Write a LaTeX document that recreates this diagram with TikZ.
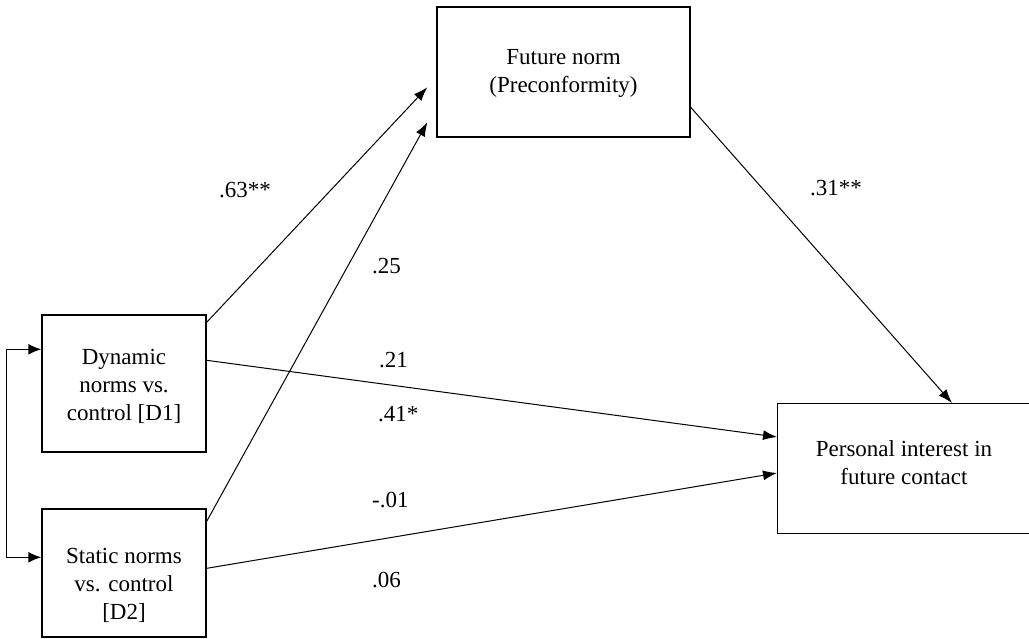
\documentclass[tikz,border=0pt]{standalone}
\usepackage{fontspec}
\setmainfont{Liberation Serif}
\usetikzlibrary{arrows.meta}
\begin{document}
\begin{tikzpicture}[x=1pt,y=-1pt,
  box/.style={draw,line width=1.4pt,rectangle,inner sep=0pt,align=center,
    font=\fontsize{23}{28}\selectfont},
  txt/.style={inner sep=0pt,align=center,font=\fontsize{23}{28}\selectfont},
  conn/.style={line width=1pt,-{Latex[length=14pt,width=10pt]}},
  lbl/.style={anchor=base west,inner sep=0pt,font=\fontsize{23}{28}\selectfont}]
\useasboundingbox (0,0) rectangle (1029,638);
\node[box,minimum width=253pt,minimum height=130pt] (fn) at (563.5,72) {};
\node[txt] (fntext) at (563.5,73) {Future norm\\(Preconformity)};
\node[box,minimum width=164pt,minimum height=137pt] (d1) at (124,383.5) {};
\node[txt] (d1text) at (124,386) {Dynamic\\norms vs.\\control [D1]};
\node[box,minimum width=164pt,minimum height=128pt] (d2) at (124,573) {};
\node[txt] (d2text) at (124,585) {Static norms\\vs. control\\{}[D2]};
\node[box,minimum width=280pt,minimum height=130pt,anchor=north west] (pi) at (777,403) {};
\node[txt] (pitext) at (904,463) {Personal interest in\\future contact};
% connectors
\draw[conn] ([yshift=-8pt]d1.north east) -- ([xshift=-9pt,yshift=-81pt]fn.north west);
\draw[conn] ([yshift=-13pt]d2.north east) -- ([xshift=-9pt,yshift=-116pt]fn.north west);
\draw[conn] ([yshift=-46pt]d1.north east) -- ([yshift=-34pt]pi.north west);
\draw[conn] ([yshift=-60pt]d2.north east) -- ([yshift=-70pt]pi.north west);
\draw[conn] ([yshift=-101pt]fn.north east) -- ([xshift=175pt]pi.north west);
\draw[line width=1.4pt,{Latex[length=13pt,width=11pt]}-{Latex[length=13pt,width=11pt]}]
  ([yshift=-35pt]d1.north west) -- ++(-35,0) |- ([yshift=-49pt]d2.north west);
% labels
\node[lbl] (l63) at (219,197) {.63**};
\node[lbl] (l25) at (372,273) {.25};
\node[lbl] (l21) at (379,367) {.21};
\node[lbl] (l41) at (378,421) {.41*};
\node[lbl] (l01) at (372,507) {-.01};
\node[lbl] (l06) at (372,587) {.06};
\node[lbl] (l31) at (810,195) {.31**};
\end{tikzpicture}
\end{document}
